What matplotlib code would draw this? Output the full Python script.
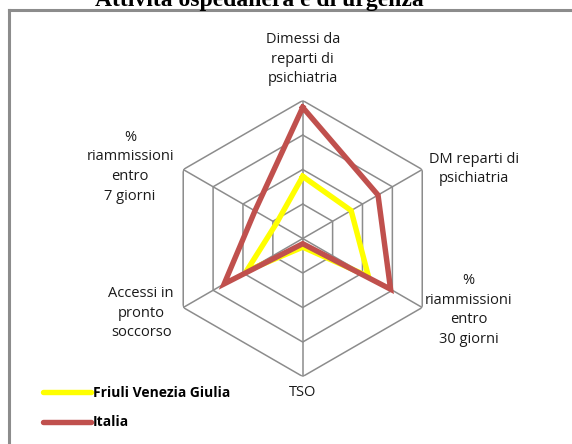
import numpy as np
import matplotlib.pyplot as plt
from matplotlib.lines import Line2D

categories = [
    'Dimessi da\nreparti di\npsichiatria',
    'DM reparti di\npsichiatria',
    '%\nriammissioni\nentro\n30 giorni',
    'TSO',
    'Accessi in\npronto\nsoccorso',
    '%\nriammissioni\nentro\n7 giorni',
]
fvg = [1.80, 1.62, 2.20, 0.25, 1.88, 0.88]
italia = [3.80, 2.52, 2.94, 0.15, 2.63, 1.60]
series_names = ['Friuli Venezia Giulia', 'Italia']
ring_levels = [1, 2, 3, 4]

# label placement (angle in degrees clockwise from top, radius in ring units)
label_angles = [0, 67.9, 113.4, 180, 245.2, 292.6]
label_radii = [5.2, 5.37, 5.23, 4.45, 5.16, 5.42]

GRID = '#8c8c8c'
YELLOW = '#ffff00'
RED = '#c0504d'
FONT = 'Open Sans'

fig = plt.figure(figsize=(5.72, 4.44), dpi=100)
ax = fig.add_axes([0.288, 0.152, 0.4825, 0.6216], projection='polar')
ax.set_theta_zero_location('N')
ax.set_theta_direction(-1)
ax.set_ylim(0, 4)
ax.grid(False)
ax.spines['polar'].set_visible(False)
ax.set_xticks([])
ax.set_yticks([])
ax.patch.set_alpha(0)

n = len(categories)
angles = np.linspace(0, 2 * np.pi, n, endpoint=False)
closed = np.append(angles, angles[0])

for lvl in ring_levels:
    ax.plot(closed, [lvl] * (n + 1), color=GRID, lw=1.1, zorder=1)
for a in angles:
    ax.plot([a, a], [0, ring_levels[-1]], color=GRID, lw=1.1, zorder=1)

ax.plot(closed, fvg + fvg[:1], color=YELLOW, lw=3.9, solid_joinstyle='miter',
        zorder=3, label=series_names[0])
ax.plot(closed, italia + italia[:1], color=RED, lw=3.9, solid_joinstyle='miter',
        zorder=4, label=series_names[1])

for lab, ang, r in zip(categories, label_angles, label_radii):
    ax.text(np.deg2rad(ang), r, lab, ha='center', va='center', fontsize=10.5,
            family=FONT, linespacing=1.42, color='#1a1a1a', clip_on=False)

handles = [Line2D([], [], color=YELLOW, lw=3.9, solid_capstyle='round'),
           Line2D([], [], color=RED, lw=3.9, solid_capstyle='round')]
fig.legend(handles, series_names, loc='upper left', bbox_to_anchor=(0.066, 0.144),
           frameon=False, handlelength=3.4, handletextpad=0.15, labelspacing=1.14,
           borderaxespad=0, prop={'family': FONT, 'weight': 'bold', 'size': 10})

# frame around the chart area
fig.add_artist(Line2D([9 / 572, 9 / 572], [0, 1 - 10 / 444], color=GRID, lw=2.2,
                      transform=fig.transFigure))
fig.add_artist(Line2D([9 / 572, 1], [1 - 10 / 444, 1 - 10 / 444], color=GRID, lw=2.2,
                      transform=fig.transFigure))

fig.text(259 / 572, 1 - 6 / 444, 'Attività ospedaliera e di urgenza', ha='center',
         va='baseline', fontsize=17, weight='bold', family='Liberation Serif')

fig.savefig('out.png', dpi=100)
